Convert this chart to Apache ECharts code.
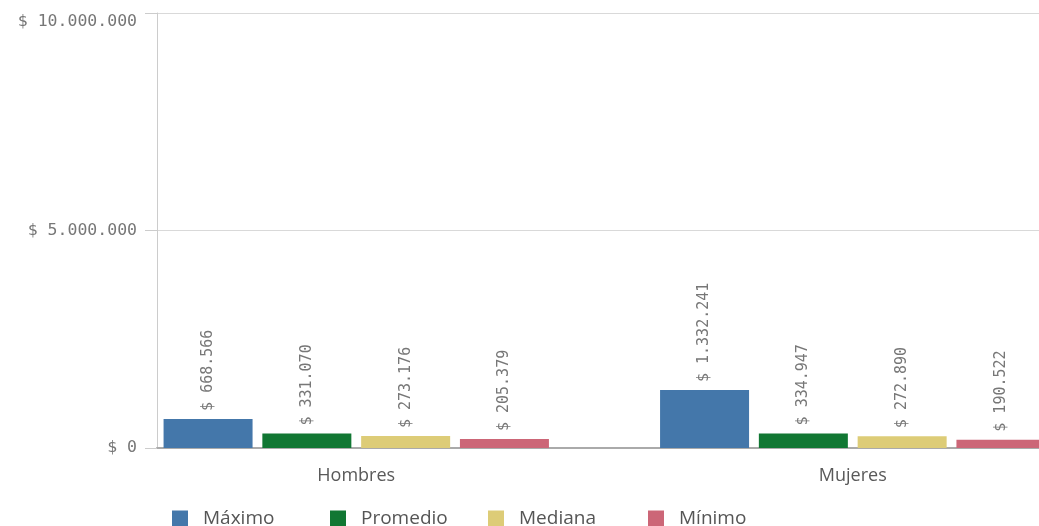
<!DOCTYPE html>
<html>
<head>
<meta charset="utf-8">
<script src="https://cdn.jsdelivr.net/npm/echarts@6/dist/echarts.min.js"></script>
<style>html,body{margin:0;padding:0;background:#fff}#c{width:1039px;height:526px}</style>
</head>
<body>
<div id="c"></div>
<script>
const categories = ['Hombres', 'Mujeres'];
const seriesNames = ['Máximo', 'Promedio', 'Mediana', 'Mínimo'];
const maximo = [668566, 1332241];
const promedio = [331070, 334947];
const mediana = [273176, 272890];
const minimo = [205379, 190522];
const yTicks = [0, 5000000, 10000000];
const colors = ['#4477aa', '#117733', '#ddcc77', '#cc6677'];

function fmt(v) {
  return '$ ' + String(Math.round(v)).replace(/\B(?=(\d{3})+(?!\d))/g, '.');
}
const mono = 'DejaVu Sans Mono';
const sans = 'Open Sans';
const values = [maximo, promedio, mediana, minimo];
const legendLeft = [172, 330, 488, 648];

const chart = echarts.init(document.getElementById('c'));
chart.setOption({
  animation: false,
  grid: [
    {left: 157, top: 13, right: 0, bottom: 78, containLabel: false, outerBoundsMode: 'none'},
    {left: 108, top: 13, width: 993, bottom: 78, containLabel: false, outerBoundsMode: 'none'}
  ],
  legend: seriesNames.map((n, i) => ({
    data: [n], left: legendLeft[i], top: 509, itemWidth: 16, itemHeight: 16, itemGap: 0,
    icon: 'rect', textStyle: {fontFamily: sans, fontSize: 19, color: '#555', padding: [0, 0, 0, 10]}, padding: 0
  })),
  xAxis: [
    {gridIndex: 0, type: 'category', data: categories, axisLabel: {show: false}, axisTick: {show: false},
     axisLine: {lineStyle: {color: '#aaa', width: 2}}},
    {gridIndex: 1, type: 'category', data: categories, axisLine: {show: false}, axisTick: {show: false},
     axisLabel: {fontFamily: sans, fontSize: 18, color: '#595959', margin: 19}}
  ],
  yAxis: [
    {gridIndex: 0, type: 'value', min: yTicks[0], max: yTicks[2], interval: yTicks[1] - yTicks[0],
     axisLine: {show: true, lineStyle: {color: '#ccc'}},
     axisTick: {show: true, length: 12, lineStyle: {color: '#ccc'}},
     splitLine: {lineStyle: {color: '#d9d9d9'}},
     axisLabel: {formatter: fmt, fontFamily: mono, fontSize: 16.5, color: '#777', margin: 20,
       verticalAlignMaxLabel: 'top'}},
    {gridIndex: 1, type: 'value', min: yTicks[0], max: yTicks[2], show: false, splitLine: {show: false}}
  ],
  series: seriesNames.map((n, i) => ({
    name: n, type: 'bar', xAxisIndex: 1, yAxisIndex: 1, data: values[i],
    barWidth: 89, barGap: '11%',
    itemStyle: {color: colors[i]},
    label: {show: true, position: 'top', rotate: 90, align: 'left', verticalAlign: 'middle', distance: 8,
      formatter: p => fmt(p.value), fontFamily: mono, fontSize: 15, color: '#777'}
  }))
});
</script>
</body>
</html>
